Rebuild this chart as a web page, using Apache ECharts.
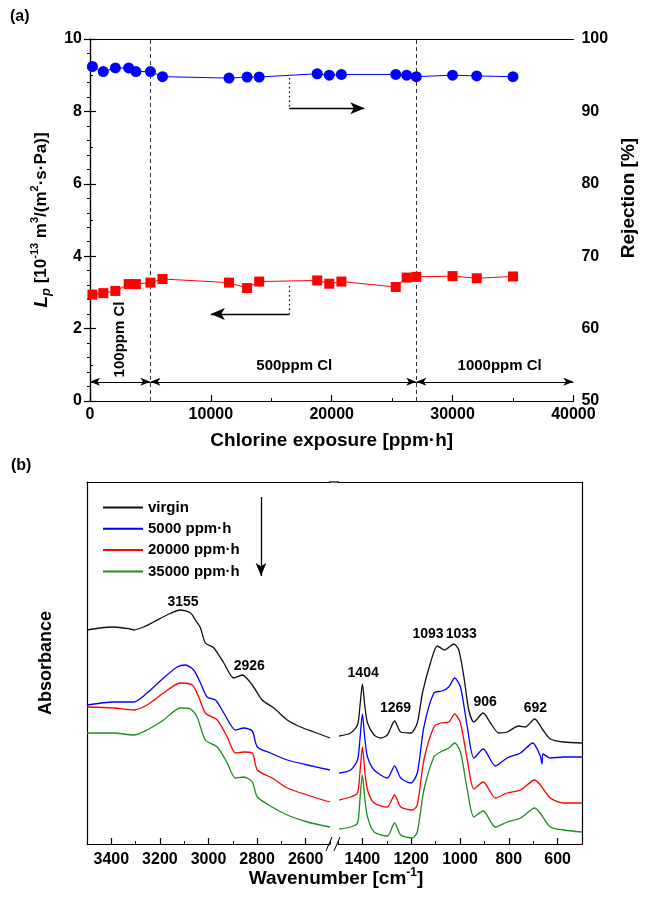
<!DOCTYPE html>
<html><head><meta charset="utf-8">
<script src="https://cdn.jsdelivr.net/npm/echarts@6.0.0/dist/echarts.min.js"></script>
<style>html,body{margin:0;padding:0;background:#fff}#c{width:646px;height:899px}</style>
</head><body><div id="c"></div>
<script>
// ---------- Panel (a) data ----------
const exposure = [200, 1100, 2100, 3200, 3800, 5000, 6000, 11500, 13000, 14000, 18800, 19800, 20800, 25300, 26200, 27000, 30000, 32000, 35000];
const lp = [2.94, 2.98, 3.04, 3.23, 3.23, 3.27, 3.37, 3.27, 3.12, 3.30, 3.33, 3.24, 3.30, 3.15, 3.41, 3.43, 3.45, 3.39, 3.44];
const rejection = [96.2, 95.5, 96.0, 96.0, 95.5, 95.5, 94.8, 94.6, 94.75, 94.75, 95.2, 95.0, 95.1, 95.1, 95.0, 94.8, 95.0, 94.9, 94.8];
const stageBoundaries = [5000, 27000];
const stageRanges = [[0, 5000], [5000, 27000], [27000, 40000]];
const stageNames = ['100ppm Cl', '500ppm Cl', '1000ppm Cl'];

// ---------- Panel (b) data: [wavenumber, absorbance (a.u.)] ----------
const virginHigh = [[3500,214],[3446,216],[3391,217],[3322,215],[3308,214],[3267,217],[3226,222],[3171,229],[3116,234],[3074,231],[3054,224],[3033,216],[3013,201],[2978,196],[2937,181],[2896,166],[2861,169],[2820,159],[2779,144],[2731,136],[2676,124],[2621,117],[2566,112],[2500,106]];
const virginLow = [[1495,108],[1448,111],[1420,119],[1410,138],[1400,160],[1390,138],[1379,121],[1352,109],[1325,106],[1298,109],[1268,123],[1243,112],[1202,111],[1175,121],[1154,151],[1120,182],[1093,198],[1063,194],[1025,200],[1005,194],[984,167],[964,134],[943,122],[905,131],[875,121],[841,111],[807,112],[759,118],[732,117],[694,125],[660,114],[630,105],[575,102],[500,101]];
const blueHigh = [[3500,139],[3391,142],[3308,142],[3253,151],[3185,166],[3129,177],[3095,179],[3061,174],[3033,161],[3006,147],[2971,144],[2937,131],[2889,114],[2855,116],[2820,113],[2799,97],[2745,91],[2676,84],[2593,79],[2500,74]];
const blueLow = [[1495,71],[1448,74],[1420,84],[1410,105],[1400,130],[1390,105],[1379,87],[1352,74],[1298,66],[1268,78],[1243,66],[1202,61],[1175,71],[1148,117],[1107,151],[1073,153],[1046,157],[1022,166],[998,157],[970,117],[943,86],[905,95],[855,78],[807,86],[752,91],[702,101],[671,88],[664,80],[660,90],[630,86],[575,87],[500,87]];
const redHigh = [[3500,137],[3391,136],[3308,134],[3253,139],[3185,151],[3116,161],[3067,159],[3040,147],[3013,131],[2964,124],[2923,107],[2889,91],[2855,92],[2820,91],[2799,74],[2738,66],[2676,56],[2593,49],[2500,42]];
const redLow = [[1495,44],[1448,47],[1420,51],[1410,72],[1400,97],[1390,72],[1379,54],[1352,41],[1298,37],[1268,49],[1243,37],[1195,34],[1175,39],[1148,84],[1107,117],[1080,121],[1046,122],[1022,130],[998,121],[970,84],[943,55],[905,62],[855,46],[807,51],[752,54],[694,64],[630,46],[575,41],[500,41]];
const greenHigh = [[3500,111],[3391,111],[3308,109],[3253,114],[3185,124],[3116,136],[3074,135],[3047,127],[3013,104],[2964,97],[2923,81],[2889,66],[2855,67],[2820,62],[2799,47],[2738,37],[2676,29],[2593,22],[2500,17]];
const greenLow = [[1495,15],[1448,17],[1420,21],[1410,45],[1400,69],[1390,45],[1379,27],[1352,12],[1298,8],[1268,21],[1243,9],[1195,6],[1175,12],[1148,54],[1107,87],[1080,92],[1046,96],[1022,101],[998,92],[970,54],[943,27],[905,33],[855,17],[807,22],[752,26],[694,36],[630,17],[575,14],[500,12]];
const spectraNames = ['virgin', '5000 ppm\u00b7h', '20000 ppm\u00b7h', '35000 ppm\u00b7h'];
const peakLabelsHigh = [[3105, 242, '3155'], [2832, 178, '2926']];
const peakLabelsLow = [[1397, 171, '1404'], [1264, 136, '1269'], [1131, 210, '1093'], [995, 210, '1033'], [897, 142, '906'], [691, 136, '692']];
const ticksHigh = [2600, 2800, 3000, 3200, 3400];
const minorHigh = [2500, 2700, 2900, 3100, 3300, 3500];
const ticksLow = [600, 800, 1000, 1200, 1400];
const minorLow = [500, 700, 900, 1100, 1300, 1500];

// ---------- styling ----------
const FONT = '"Liberation Sans", Arial, sans-serif';
const BLK = '#000';
const lineAx = {show: true, lineStyle: {color: BLK, width: 1.2}};
const tickLbl = {color: BLK, fontFamily: FONT, fontWeight: 'bold', fontSize: 16, formatter: v => String(v)};
const colors = ['#111111', '#0000ff', '#ff0000', '#1e8c1e'];

const chart = echarts.init(document.getElementById('c'), null, {renderer: 'canvas'});

function plainAxis(extra) {
  return Object.assign({axisLine: lineAx, axisTick: {show: false}, axisLabel: {show: false}, splitLine: {show: false}}, extra);
}
function textPoint(x, y, txt, opts) {
  return Object.assign({value: [x, y, txt]}, opts || {});
}
const hiddenItem = {color: 'rgba(0,0,0,0)', opacity: 1};

const series = [];
// Panel (a)
series.push({
  type: 'line', name: 'Lp', xAxisIndex: 0, yAxisIndex: 0,
  data: exposure.map((x, i) => [x, lp[i]]),
  symbol: 'rect', symbolSize: 10, color: '#ff0000', lineStyle: {width: 1, color: '#ff0000'},
  itemStyle: {color: '#ff0000'}, z: 5,
  markLine: {silent: true, symbol: 'none', label: {show: false},
    lineStyle: {type: [4, 3], color: '#333', width: 1},
    data: stageBoundaries.map(b => ({xAxis: b}))}
});
series.push({
  type: 'line', name: 'Rejection', xAxisIndex: 0, yAxisIndex: 1,
  data: exposure.map((x, i) => [x, rejection[i]]),
  symbol: 'circle', symbolSize: 11, color: '#0000ff', lineStyle: {width: 1, color: '#0000ff'},
  itemStyle: {color: '#0000ff'}, z: 5
});
// dotted leaders
series.push({type: 'line', xAxisIndex: 0, yAxisIndex: 0, data: [],
  markLine: {silent: true, symbol: 'none', label: {show: false},
    lineStyle: {type: [1.5, 3], color: BLK, width: 1.2},
    data: [[{coord: [16500, 8.92]}, {coord: [16500, 8.09]}], [{coord: [16500, 3.18]}, {coord: [16500, 2.40]}]]}});
// single arrows
series.push({type: 'line', xAxisIndex: 0, yAxisIndex: 0, data: [],
  markLine: {silent: true, symbol: ['none', 'arrow'], symbolSize: [9, 14], label: {show: false},
    lineStyle: {type: 'solid', color: BLK, width: 1.3},
    data: [[{coord: [16500, 8.09]}, {coord: [22700, 8.09]}], [{coord: [16500, 2.40]}, {coord: [10000, 2.40]}]]}});
// double arrows for stages
series.push({type: 'line', xAxisIndex: 0, yAxisIndex: 0, data: [],
  markLine: {silent: true, symbol: ['arrow', 'arrow'], symbolSize: [6, 10], label: {show: false},
    lineStyle: {type: 'solid', color: BLK, width: 1},
    data: stageRanges.map(r => [{coord: [r[0], 0.53]}, {coord: [r[1], 0.53]}])}});
// stage labels
const stageLabel = {show: true, position: 'inside', formatter: p => p.value[2], color: BLK, opacity: 1,
  fontFamily: FONT, fontWeight: 'bold', fontSize: 15};
series.push({type: 'scatter', xAxisIndex: 0, yAxisIndex: 0, symbolSize: 1, itemStyle: hiddenItem, silent: true,
  label: stageLabel,
  data: [
    textPoint(2500, 1.7, stageNames[0], {label: {rotate: 90}}),
    textPoint(16900, 0.96, stageNames[1]),
    textPoint(33900, 0.97, stageNames[2])
  ]});

// Panel (b)
const high = [virginHigh, blueHigh, redHigh, greenHigh];
const low = [virginLow, blueLow, redLow, greenLow];
for (let i = 0; i < 4; i++) {
  series.push({type: 'line', name: spectraNames[i], xAxisIndex: 2, yAxisIndex: 2, data: high[i],
    symbol: 'none', smooth: 0.25, color: colors[i], lineStyle: {width: 1.3, color: colors[i]}, silent: true});
  series.push({type: 'line', name: spectraNames[i], xAxisIndex: 5, yAxisIndex: 3, data: low[i],
    symbol: 'none', smooth: 0.25, color: colors[i], lineStyle: {width: 1.3, color: colors[i]}, silent: true});
}
const peakLabel = {show: true, position: 'inside', formatter: p => p.value[2], color: BLK, opacity: 1,
  fontFamily: FONT, fontWeight: 'bold', fontSize: 14};
series.push({type: 'scatter', xAxisIndex: 2, yAxisIndex: 2, symbolSize: 1, itemStyle: hiddenItem, silent: true,
  label: peakLabel, data: peakLabelsHigh.map(p => ({value: p}))});
series.push({type: 'scatter', xAxisIndex: 5, yAxisIndex: 3, symbolSize: 1, itemStyle: hiddenItem, silent: true,
  label: peakLabel, data: peakLabelsLow.map(p => ({value: p}))});
// legend arrow
series.push({type: 'line', xAxisIndex: 2, yAxisIndex: 2, data: [],
  markLine: {silent: true, symbol: ['none', 'arrow'], symbolSize: [8, 13], label: {show: false},
    lineStyle: {type: 'solid', color: BLK, width: 1.3},
    data: [[{coord: [2784, 347]}, {coord: [2784, 268]}]]}});

const option = {
  animation: false,
  backgroundColor: '#fff',
  textStyle: {fontFamily: FONT},
  grid: [
    {left: 90, top: 39, width: 492, height: 362},
    {left: 87, top: 482, width: 243, height: 362},
    {left: 338, top: 482, width: 244, height: 362}
  ],
  legend: {
    data: spectraNames, orient: 'vertical', left: 98, top: 495, itemGap: 6.3,
    icon: 'rect', itemWidth: 40, itemHeight: 2,
    textStyle: {color: BLK, fontFamily: FONT, fontWeight: 'bold', fontSize: 15, lineHeight: 15}
  },
  xAxis: [
    {type: 'value', gridIndex: 0, position: 'bottom', min: 0, max: 40000, interval: 10000,
      axisLine: lineAx, splitLine: {show: false},
      axisTick: {inside: true, length: 6, lineStyle: {color: BLK, width: 1.2}},
      minorTick: {show: true, splitNumber: 2, length: 3, lineStyle: {color: BLK}},
      axisLabel: Object.assign({margin: 6}, tickLbl),
      name: 'Chlorine exposure [ppm\u00b7h]', nameLocation: 'middle', nameGap: 30,
      nameTextStyle: {color: BLK, fontFamily: FONT, fontWeight: 'bold', fontSize: 19}},
    plainAxis({type: 'value', gridIndex: 0, position: 'top', min: 0, max: 40000}),
    {type: 'value', gridIndex: 1, position: 'bottom', min: 2500, max: 3500, inverse: true,
      axisLine: lineAx, splitLine: {show: false},
      axisTick: {inside: true, length: 6, customValues: ticksHigh, lineStyle: {color: BLK, width: 1.2}},
      axisLabel: Object.assign({margin: 8, customValues: ticksHigh}, tickLbl)},
    {type: 'value', gridIndex: 1, position: 'bottom', min: 2500, max: 3500, inverse: true,
      axisLine: {show: false}, splitLine: {show: false}, axisLabel: {show: false},
      axisTick: {inside: true, length: 3, customValues: minorHigh, lineStyle: {color: BLK}}},
    plainAxis({type: 'value', gridIndex: 1, position: 'top', min: 2500, max: 3500, inverse: true}),
    {type: 'value', gridIndex: 2, position: 'bottom', min: 500, max: 1500, inverse: true,
      axisLine: lineAx, splitLine: {show: false},
      axisTick: {inside: true, length: 6, customValues: ticksLow, lineStyle: {color: BLK, width: 1.2}},
      axisLabel: Object.assign({margin: 8, customValues: ticksLow}, tickLbl)},
    {type: 'value', gridIndex: 2, position: 'bottom', min: 500, max: 1500, inverse: true,
      axisLine: {show: false}, splitLine: {show: false}, axisLabel: {show: false},
      axisTick: {inside: true, length: 3, customValues: minorLow, lineStyle: {color: BLK}}},
    plainAxis({type: 'value', gridIndex: 2, position: 'top', min: 500, max: 1500, inverse: true})
  ],
  yAxis: [
    {type: 'value', gridIndex: 0, position: 'left', min: 0, max: 10, interval: 2,
      axisLine: lineAx, splitLine: {show: false},
      axisTick: {inside: true, length: 6, lineStyle: {color: BLK, width: 1.2}},
      minorTick: {show: true, splitNumber: 2, length: 3, lineStyle: {color: BLK}},
      axisLabel: Object.assign({margin: 8}, tickLbl),
      name: '{i|L}{sub|p}{t| [10}{sup|-13}{t| m}{sup|3}{t|/(m}{sup|2}{t|\u00b7s\u00b7Pa)]}',
      nameLocation: 'middle', nameGap: 36, nameRotate: 90,
      nameTextStyle: {color: BLK, fontFamily: FONT, fontWeight: 'bold', fontSize: 17,
        rich: {
          i: {fontStyle: 'italic', fontWeight: 'bold', fontSize: 19, fontFamily: FONT, color: BLK, lineHeight: 24, verticalAlign: 'middle'},
          t: {fontWeight: 'bold', fontSize: 17, fontFamily: FONT, color: BLK, lineHeight: 24, verticalAlign: 'middle'},
          sub: {fontWeight: 'bold', fontStyle: 'italic', fontSize: 13, fontFamily: FONT, color: BLK, lineHeight: 13, verticalAlign: 'bottom'},
          sup: {fontWeight: 'bold', fontSize: 11, fontFamily: FONT, color: BLK, lineHeight: 11, verticalAlign: 'top'}
        }}},
    {type: 'value', gridIndex: 0, position: 'right', min: 50, max: 100, interval: 10,
      axisLine: lineAx, splitLine: {show: false},
      axisTick: {inside: true, length: 6, lineStyle: {color: BLK, width: 1.2}},
      minorTick: {show: true, splitNumber: 5, length: 3, lineStyle: {color: BLK}},
      axisLabel: Object.assign({margin: 8}, tickLbl),
      name: 'Rejection [%]', nameLocation: 'middle', nameGap: 38, nameRotate: 90,
      nameTextStyle: {color: BLK, fontFamily: FONT, fontWeight: 'bold', fontSize: 19, padding: [0, 0, 0, 44]}},
    plainAxis({type: 'value', gridIndex: 1, position: 'left', min: 0, max: 362,
      name: 'Absorbance', nameLocation: 'middle', nameGap: 32, nameRotate: 90,
      nameTextStyle: {color: BLK, fontFamily: FONT, fontWeight: 'bold', fontSize: 18}}),
    plainAxis({type: 'value', gridIndex: 2, position: 'right', min: 0, max: 362})
  ],
  series: series,
  graphic: [
    {type: 'text', left: 10, top: 9, style: {text: '(a)', font: 'bold 16px ' + FONT, fill: BLK}},
    {type: 'text', left: 11, top: 458, style: {text: '(b)', font: 'bold 16px ' + FONT, fill: BLK}},
    {type: 'line', shape: {x1: 329, y1: 482, x2: 339, y2: 482}, style: {stroke: BLK, lineWidth: 1.2}},
    {type: 'line', shape: {x1: 326, y1: 851, x2: 332, y2: 837}, style: {stroke: BLK, lineWidth: 1}},
    {type: 'line', shape: {x1: 334, y1: 851, x2: 340, y2: 837}, style: {stroke: BLK, lineWidth: 1}},
    {type: 'text', x: 336, y: 879, style: {
      text: '{b|Wavenumber [cm}{s|-1}{b|]}', align: 'center', verticalAlign: 'middle',
      rich: {b: {font: 'bold 19px ' + FONT, fill: BLK, lineHeight: 24, verticalAlign: 'middle'},
             s: {font: 'bold 12px ' + FONT, fill: BLK, lineHeight: 12, verticalAlign: 'top'}}}}
  ]
};
chart.setOption(option);
</script>
</body></html>
